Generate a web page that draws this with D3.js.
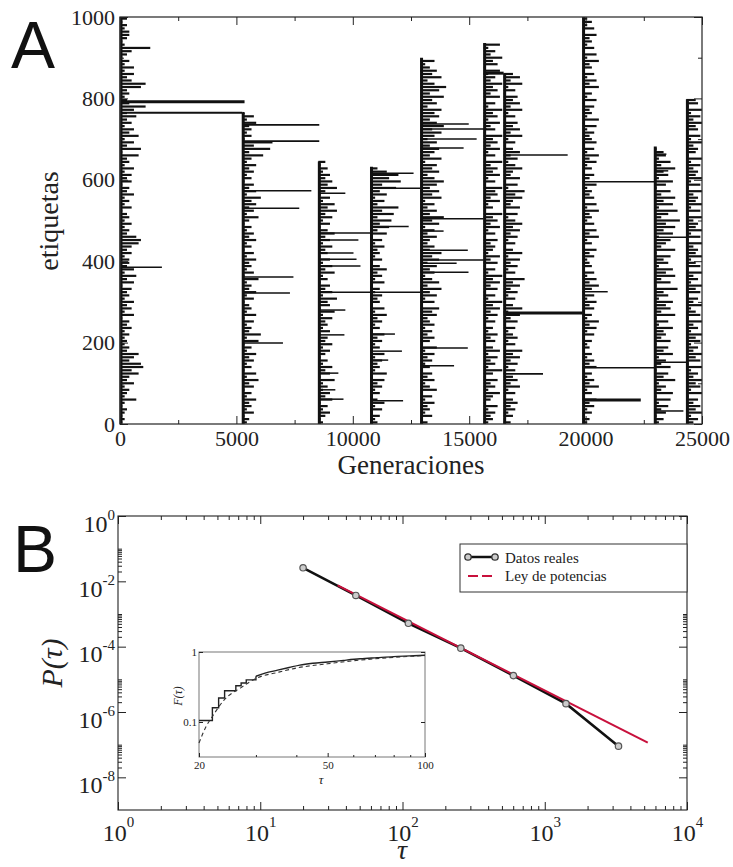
<!DOCTYPE html>
<html>
<head>
<meta charset="utf-8">
<script src="https://cdnjs.cloudflare.com/ajax/libs/d3/7.8.5/d3.min.js"></script>
<style>
  body { margin: 0; background: #fff; }
  svg text { font-family: "Liberation Serif", "DejaVu Serif", "Times New Roman", serif; }
  svg text.sans { font-family: "Liberation Sans", "DejaVu Sans", Arial, sans-serif; }
</style>
</head>
<body>
<div id="chart"></div>
<script>
// ---------- Panel A data ----------
const genTicks = [0, 5000, 10000, 15000, 20000, 25000];
const genMinor = [2500, 7500, 12500, 17500, 22500];
const labelTicks = [0, 200, 400, 600, 800, 1000];
const labelMinor = [100, 300, 500, 700, 900];

// generation where each vertical block starts, and its highest label
const blockStart = [0, 5250, 8520, 10760, 12910, 15620, 16480, 19870, 22950, 24330];
const blockTop = [1000, 765, 645, 632, 900, 936, 862, 1000, 682, 798];

// short bars, one every 8 labels from the bottom, length in hundreds of generations (base 36)
const hairStep = 8;
const hairLengths = [
  "12123127234263485a9468342" + "3242534162536243516372634" + "4253589734252431524263415" + "3526243819362846253736b43" + "2439b5362624135d213442313",
  "231524362415372614253624" + "172834251624315263427152" + "436251426352413725364826" + "351425362493c5d142436251",
  "213524163524271536241352634" + "152436271548263514273625143" + "625374152638472513846352413",
  "32415263142536172435261425" + "36142537261435241625374152" + "436251738493a5c36274b5d8c73",
  "3152436251742635142536271463" + "5264375816274938526473859463" + "4736285a4736295847a638572946" + "8473695a74869375a48b63957426",
  "24352613472536148253627415362" + "41526374825163748251637245361" + "52736481427365815274638152736" + "481537264825173648352716483527",
  "314253641527364152637481526" + "425163728415263749152637284" + "152637485261734859261734852" + "637415283746152837461528374",
  "2314253614273524163524132" + "4152637241536251473625143" + "2536142736152437261534261" + "3514263725164352617243516" + "2417362514372615243615242",
  "2415362718352946173528461735" + "4826193758264a17395826471935" + "728495b36a2849371582649372541",
  "3527463517264735271647352" + "6472537164273516472537164" + "2745371627453716274537162" + "7453627145372615473627154"
];

// long bars: [block, label, end generation, stroke width]
const longBars = [
  [0, 792, 5350, 3], [0, 765, 5250, 2], [0, 385, 1800, 1.5],
  [1, 735, 8560, 1.8], [1, 695, 8560, 1.8], [1, 573, 8220, 1.5], [1, 530, 7700, 1.5],
  [1, 361, 7450, 1.5], [1, 322, 7300, 1.5], [1, 199, 7000, 1.5],
  [2, 567, 9680, 1.5], [2, 469, 10760, 1.5], [2, 452, 10240, 1.5], [2, 420, 10030, 1.5],
  [2, 405, 10160, 1.5], [2, 388, 10330, 1.5], [2, 324, 12910, 1.5], [2, 280, 9680, 1.5],
  [2, 219, 9640, 1.5], [2, 125, 9380, 1.5], [2, 84, 9250, 1.5], [2, 61, 9600, 1.5],
  [3, 616, 12610, 1.5], [3, 579, 12910, 1.5], [3, 485, 12400, 1.5], [3, 221, 11810, 1.5],
  [3, 179, 12110, 1.5], [3, 157, 11520, 1.5], [3, 57, 12160, 1.5],
  [4, 737, 14980, 1.5], [4, 725, 15750, 1.5], [4, 700, 15320, 1.5], [4, 678, 14760, 1.5],
  [4, 504, 15620, 1.5], [4, 403, 15620, 1.5], [4, 474, 13900, 1.5], [4, 427, 14940, 1.5],
  [4, 395, 14460, 1.5], [4, 373, 14970, 1.5], [4, 187, 14940, 1.5], [4, 143, 14350, 1.5],
  [5, 862, 16480, 3],
  [6, 661, 19230, 1.5], [6, 273, 19870, 3], [6, 123, 18170, 1.8],
  [7, 595, 22950, 1.5], [7, 325, 20950, 1.5], [7, 138, 22950, 1.5], [7, 59, 22370, 3],
  [8, 459, 24330, 1.5], [8, 152, 24330, 1.5], [8, 32, 24200, 1.5], [8, 663, 23470, 1.5], [8, 622, 23550, 1.5]
];

// ---------- Panel B data ----------
const tauTicks = [1, 10, 100, 1000, 10000];
const pTicks = [1, 1e-2, 1e-4, 1e-6, 1e-8];
const tauData = [20, 47, 110, 257, 602, 1410, 3300];
const pData = [0.026, 3.7e-3, 5.2e-4, 9e-5, 1.3e-5, 1.8e-6, 9e-8];
const fitTau = [35, 5300];
const fitP = [7.5e-3, 1.15e-7];

// inset: cumulative F(tau)
const insetTauTicks = [20, 50, 100];
const insetFTicks = [0.1, 1];
const insetStepTau = [20, 22, 23, 24, 26, 27, 28, 30];
const insetStepF = [0.105, 0.16, 0.22, 0.28, 0.33, 0.36, 0.40, 0.45];
const insetSmoothTau = [30, 32, 35, 38, 41, 45, 50, 56, 63, 71, 80, 90, 100];
const insetSmoothF = [0.45, 0.50, 0.55, 0.60, 0.65, 0.69, 0.72, 0.76, 0.80, 0.83, 0.86, 0.88, 0.90];
const insetFitTau = [20, 21, 22, 24, 27, 30, 35, 40, 50, 60, 70, 80, 100];
const insetFitF = [0.05, 0.085, 0.12, 0.21, 0.31, 0.42, 0.51, 0.59, 0.68, 0.75, 0.80, 0.84, 0.89];

const svg = d3.select("#chart")
    .append("svg")
    .attr("width", 733)
    .attr("height", 867)
    .style("background", "#fff");

function cleanAxis(g, size) {
    g.select(".domain").remove();
    g.selectAll(".tick line").attr("stroke", "#222").attr("stroke-width", 1);
    g.attr("font-family", null).attr("font-size", size);
    g.selectAll(".tick text").attr("fill", "#222");
}

// ================= Panel A =================
const xA = d3.scaleLinear().domain([0, 25000]).range([120, 702]);
const yA = d3.scaleLinear().domain([0, 1000]).range([424, 17]);

const marksA = svg.append("g");

// short bars
blockStart.forEach((s, b) => {
    const hairs = Array.from(hairLengths[b]).map((c, i) => ({ label: i * hairStep + 4, len: parseInt(c, 36) * 100 }));
    marksA.append("g")
        .selectAll("line")
        .data(hairs)
        .join("line")
        .attr("x1", xA(s))
        .attr("x2", d => xA(Math.min(s + d.len, 25000)))
        .attr("y1", d => yA(d.label))
        .attr("y2", d => yA(d.label))
        .attr("stroke", "#111")
        .attr("stroke-width", 2.2);
});

// long bars
marksA.append("g")
    .selectAll("line")
    .data(longBars)
    .join("line")
    .attr("x1", d => xA(blockStart[d[0]]))
    .attr("x2", d => xA(d[2]))
    .attr("y1", d => yA(d[1]))
    .attr("y2", d => yA(d[1]))
    .attr("stroke", "#111")
    .attr("stroke-width", d => d[3]);

// vertical lines of each block
marksA.append("g")
    .selectAll("line")
    .data(blockStart)
    .join("line")
    .attr("x1", d => xA(d) + 1)
    .attr("x2", d => xA(d) + 1)
    .attr("y1", yA(0))
    .attr("y2", (d, i) => yA(blockTop[i]))
    .attr("stroke", "#111")
    .attr("stroke-width", 3);

// frame
svg.append("rect")
    .attr("x", xA(0)).attr("y", yA(1000))
    .attr("width", xA(25000) - xA(0)).attr("height", yA(0) - yA(1000))
    .attr("fill", "none").attr("stroke", "#333").attr("stroke-width", 1.3);

svg.append("g").attr("transform", "translate(0," + yA(0) + ")")
    .call(d3.axisBottom(xA).tickValues(genTicks).tickSize(-8).tickPadding(6).tickFormat(d3.format("d")))
    .call(g => cleanAxis(g, 22));
svg.append("g").attr("transform", "translate(0," + yA(0) + ")")
    .call(d3.axisBottom(xA).tickValues(genMinor).tickSize(-4).tickFormat(""))
    .call(g => cleanAxis(g, 22));
svg.append("g").attr("transform", "translate(0," + yA(1000) + ")")
    .call(d3.axisTop(xA).tickValues(genTicks).tickSize(-8).tickFormat(""))
    .call(g => cleanAxis(g, 22));
svg.append("g").attr("transform", "translate(0," + yA(1000) + ")")
    .call(d3.axisTop(xA).tickValues(genMinor).tickSize(-4).tickFormat(""))
    .call(g => cleanAxis(g, 22));
svg.append("g").attr("transform", "translate(" + xA(0) + ",0)")
    .call(d3.axisLeft(yA).tickValues(labelTicks).tickSize(-8).tickPadding(5).tickFormat(d3.format("d")))
    .call(g => cleanAxis(g, 22));
svg.append("g").attr("transform", "translate(" + xA(0) + ",0)")
    .call(d3.axisLeft(yA).tickValues(labelMinor).tickSize(-4).tickFormat(""))
    .call(g => cleanAxis(g, 22));
svg.append("g").attr("transform", "translate(" + xA(25000) + ",0)")
    .call(d3.axisRight(yA).tickValues(labelTicks).tickSize(-8).tickFormat(""))
    .call(g => cleanAxis(g, 22));
svg.append("g").attr("transform", "translate(" + xA(25000) + ",0)")
    .call(d3.axisRight(yA).tickValues(labelMinor).tickSize(-4).tickFormat(""))
    .call(g => cleanAxis(g, 22));

svg.append("text")
    .attr("x", 411).attr("y", 474)
    .attr("text-anchor", "middle")
    .attr("font-size", 27).attr("fill", "#222")
    .text("Generaciones");
svg.append("text")
    .attr("transform", "translate(58,221) rotate(-90)")
    .attr("text-anchor", "middle")
    .attr("font-size", 28).attr("fill", "#222")
    .text("etiquetas");
svg.append("text")
    .attr("class", "sans")
    .attr("x", 11).attr("y", 68)
    .attr("font-size", 66).attr("fill", "#111")
    .text("A");

// ================= Panel B =================
const xB = d3.scaleLog().domain([1, 1e4]).range([118, 687]);
const yB = d3.scaleLog().domain([1e-9, 1]).range([810, 516]);

svg.append("rect")
    .attr("x", xB(1)).attr("y", yB(1))
    .attr("width", xB(1e4) - xB(1)).attr("height", yB(1e-9) - yB(1))
    .attr("fill", "none").attr("stroke", "#222").attr("stroke-width", 1.1);

const tauMinor = xB.ticks().filter(d => !tauTicks.includes(d));
const pMinor = pTicks.slice(1).flatMap(m => d3.range(2, 11).map(k => k * m));

function supLabels(g, anchor) {
    g.selectAll(".tick text").each(function (d) {
        const t = d3.select(this).text(null).attr("dy", null);
        if (anchor === "x") t.attr("y", 31);
        t.append("tspan").attr("dy", anchor === "x" ? 0 : 15).text("10");
        t.append("tspan").attr("dy", anchor === "x" ? -14 : -12).attr("font-size", 15)
            .text(String(Math.round(Math.log10(d))));
    });
}

svg.append("g").attr("transform", "translate(0," + yB(1e-9) + ")")
    .call(d3.axisBottom(xB).tickValues(tauTicks).tickSize(-8).tickFormat(""))
    .call(g => cleanAxis(g, 24))
    .call(g => supLabels(g, "x"));
svg.append("g").attr("transform", "translate(0," + yB(1e-9) + ")")
    .call(d3.axisBottom(xB).tickValues(tauMinor).tickSize(-4).tickFormat(""))
    .call(g => cleanAxis(g, 24));
svg.append("g").attr("transform", "translate(0," + yB(1) + ")")
    .call(d3.axisTop(xB).tickValues(tauTicks).tickSize(-8).tickFormat(""))
    .call(g => cleanAxis(g, 24));
svg.append("g").attr("transform", "translate(0," + yB(1) + ")")
    .call(d3.axisTop(xB).tickValues(tauMinor).tickSize(-4).tickFormat(""))
    .call(g => cleanAxis(g, 24));
svg.append("g").attr("transform", "translate(" + xB(1) + ",0)")
    .call(d3.axisLeft(yB).tickValues(pTicks).tickSize(-8).tickPadding(3).tickFormat(""))
    .call(g => cleanAxis(g, 24))
    .call(g => supLabels(g, "y"));
svg.append("g").attr("transform", "translate(" + xB(1) + ",0)")
    .call(d3.axisLeft(yB).tickValues(pMinor).tickSize(-4).tickFormat(""))
    .call(g => cleanAxis(g, 24));
svg.append("g").attr("transform", "translate(" + xB(1e4) + ",0)")
    .call(d3.axisRight(yB).tickValues(pTicks).tickSize(-8).tickFormat(""))
    .call(g => cleanAxis(g, 24));
svg.append("g").attr("transform", "translate(" + xB(1e4) + ",0)")
    .call(d3.axisRight(yB).tickValues(pMinor).tickSize(-4).tickFormat(""))
    .call(g => cleanAxis(g, 24));

// data line
const real = tauData.map((t, i) => ({ t: t, p: pData[i] }));
svg.append("path")
    .datum(real)
    .attr("fill", "none")
    .attr("stroke", "#111")
    .attr("stroke-width", 2.5)
    .attr("d", d3.line().x(d => xB(d.t)).y(d => yB(d.p)));

// power law
const fit = fitTau.map((t, i) => ({ t: t, p: fitP[i] }));
svg.append("path")
    .datum(fit)
    .attr("fill", "none")
    .attr("stroke", "#c8103c")
    .attr("stroke-width", 2)
    .attr("d", d3.line().x(d => xB(d.t)).y(d => yB(d.p)));

svg.append("g")
    .selectAll("circle")
    .data(real)
    .join("circle")
    .attr("cx", d => xB(d.t))
    .attr("cy", d => yB(d.p))
    .attr("r", 3.2)
    .attr("fill", "#ccc")
    .attr("stroke", "#555")
    .attr("stroke-width", 1.2);

// axis titles
svg.append("text")
    .attr("transform", "translate(62,663) rotate(-90)")
    .attr("text-anchor", "middle")
    .attr("font-size", 30).attr("font-style", "italic").attr("fill", "#222")
    .text("P(τ)");
svg.append("text")
    .attr("x", 402).attr("y", 859)
    .attr("text-anchor", "middle")
    .attr("font-size", 28).attr("font-style", "italic").attr("fill", "#222")
    .text("τ");
svg.append("text")
    .attr("class", "sans")
    .attr("x", 13).attr("y", 572)
    .attr("font-size", 66).attr("fill", "#111")
    .text("B");

// legend
const leg = svg.append("g");
leg.append("rect")
    .attr("x", 460).attr("y", 544).attr("width", 227).attr("height", 48)
    .attr("fill", "#fff").attr("stroke", "#333").attr("stroke-width", 1);
leg.append("line")
    .attr("x1", 468).attr("x2", 495).attr("y1", 557).attr("y2", 557)
    .attr("stroke", "#111").attr("stroke-width", 2.5);
leg.selectAll("circle").data([468, 495]).join("circle")
    .attr("cx", d => d).attr("cy", 557).attr("r", 3.2)
    .attr("fill", "#ccc").attr("stroke", "#333").attr("stroke-width", 1.3);
leg.append("line")
    .attr("x1", 468).attr("x2", 495).attr("y1", 576).attr("y2", 576)
    .attr("stroke", "#c8103c").attr("stroke-width", 2).attr("stroke-dasharray", "10,4");
leg.selectAll("text").data(["Datos reales", "Ley de potencias"]).join("text")
    .attr("x", 505).attr("y", (d, i) => 563 + i * 18)
    .attr("font-size", 15).attr("fill", "#222")
    .text(d => d);

// ================= Inset =================
const xI = d3.scaleLog().domain([20, 100]).range([199, 425]);
const yI = d3.scaleLog().domain([Math.pow(10, -1.5), 1]).range([757, 652]);

svg.append("rect")
    .attr("x", 199).attr("y", 652).attr("width", 226).attr("height", 105)
    .attr("fill", "#fff").attr("stroke", "#777").attr("stroke-width", 1);

svg.append("g").attr("transform", "translate(0,757)")
    .call(d3.axisBottom(xI).tickValues(insetTauTicks).tickSize(-4).tickPadding(4).tickFormat(d3.format("d")))
    .call(g => cleanAxis(g, 11));
svg.append("g").attr("transform", "translate(0,757)")
    .call(d3.axisBottom(xI).tickValues([30, 40, 60, 70, 80, 90]).tickSize(-2).tickFormat(""))
    .call(g => cleanAxis(g, 11));
svg.append("g").attr("transform", "translate(199,0)")
    .call(d3.axisLeft(yI).tickValues(insetFTicks).tickSize(-4).tickPadding(2).tickFormat(d => d === 1 ? "1" : "0.1"))
    .call(g => cleanAxis(g, 11));
svg.append("g").attr("transform", "translate(425,0)")
    .call(d3.axisRight(yI).tickValues(insetFTicks).tickSize(-4).tickFormat(""))
    .call(g => cleanAxis(g, 11));

const insetSteps = insetStepTau.map((t, i) => ({ t: t, f: insetStepF[i] }));
svg.append("path")
    .datum(insetSteps)
    .attr("fill", "none")
    .attr("stroke", "#222")
    .attr("stroke-width", 1.4)
    .attr("d", d3.line().curve(d3.curveStepAfter).x(d => xI(d.t)).y(d => yI(d.f)));

const insetSmooth = insetSmoothTau.map((t, i) => ({ t: t, f: insetSmoothF[i] }));
svg.append("path")
    .datum(insetSmooth)
    .attr("fill", "none")
    .attr("stroke", "#222")
    .attr("stroke-width", 1.4)
    .attr("d", d3.line().curve(d3.curveMonotoneX).x(d => xI(d.t)).y(d => yI(d.f)));

const insetFit = insetFitTau.map((t, i) => ({ t: t, f: insetFitF[i] }));
svg.append("path")
    .datum(insetFit)
    .attr("fill", "none")
    .attr("stroke", "#333")
    .attr("stroke-width", 1.1)
    .attr("stroke-dasharray", "4,3")
    .attr("d", d3.line().curve(d3.curveMonotoneX).x(d => xI(d.t)).y(d => yI(d.f)));

svg.append("text")
    .attr("transform", "translate(182,696) rotate(-90)")
    .attr("text-anchor", "middle")
    .attr("font-size", 12).attr("font-style", "italic").attr("fill", "#222")
    .text("F(τ)");
svg.append("text")
    .attr("x", 321).attr("y", 784)
    .attr("text-anchor", "middle")
    .attr("font-size", 13).attr("font-style", "italic").attr("fill", "#222")
    .text("τ");
</script>
</body>
</html>
